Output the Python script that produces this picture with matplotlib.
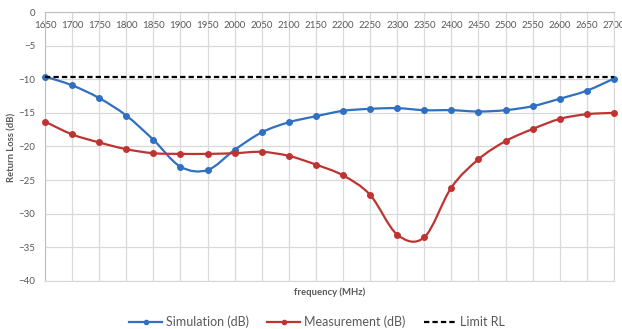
import numpy as np
import matplotlib
matplotlib.use("Agg")
import matplotlib.pyplot as plt
from matplotlib.path import Path
from matplotlib.patches import PathPatch
from matplotlib.lines import Line2D

plt.rcParams['font.family'] = ['Lato', 'DejaVu Sans']

# frequências (MHz)
freq = [1650, 1700, 1750, 1800, 1850, 1900, 1950, 2000, 2050, 2100, 2150,
        2200, 2250, 2300, 2350, 2400, 2450, 2500, 2550, 2600, 2650, 2700]

sim_db = [-9.6, -10.9, -12.8, -15.4, -19.0, -23.0, -23.5, -20.5, -17.9, -16.4, -15.5,
          -14.7, -14.4, -14.3, -14.6, -14.6, -14.8, -14.6, -14.0, -12.9, -11.7, -9.9]

meas_db = [-16.3, -18.2, -19.4, -20.4, -21.0, -21.1, -21.1, -21.0, -20.8, -21.4, -22.7,
           -24.3, -27.2, -33.1, -33.5, -26.1, -21.9, -19.2, -17.4, -15.9, -15.2, -15.0]

limit_rl = -9.6

azul = '#3070C2'
verm = '#BE3432'
cinza = '#595959'
grade = '#D9D9D9'


def curva_suave(x, y):
    # linha suavizada tipo Excel (bezier passando pelos pontos)
    x = np.asarray(x, float)
    y = np.asarray(y, float)
    verts = [(x[0], y[0])]
    codes = [Path.MOVETO]
    n = len(x)
    for i in range(n - 1):
        i0 = max(i - 1, 0)
        i3 = min(i + 2, n - 1)
        c1 = (x[i] + (x[i + 1] - x[i0]) / 6, y[i] + (y[i + 1] - y[i0]) / 6)
        c2 = (x[i + 1] - (x[i3] - x[i]) / 6, y[i + 1] - (y[i3] - y[i]) / 6)
        verts += [c1, c2, (x[i + 1], y[i + 1])]
        codes += [Path.CURVE4] * 3
    return Path(verts, codes)


fig = plt.figure(figsize=(6.22, 3.29), dpi=100)
ax = fig.add_axes([0.0723, 0.146, 0.9148, 0.8175])

for yy, cor in [(sim_db, azul), (meas_db, verm)]:
    ax.add_patch(PathPatch(curva_suave(freq, yy), fill=False, edgecolor=cor,
                           lw=1.6, zorder=3, capstyle='round'))
    ax.plot(freq, yy, 'o', color=cor, ms=4, zorder=4, clip_on=False)

ax.plot([freq[0], freq[-1]], [limit_rl, limit_rl], color='black', lw=1.6,
        dashes=(2.4, 1.4), zorder=5)

ax.set_xlim(1650, 2700)
ax.set_ylim(-40, 0)
ax.set_xticks(freq)
ax.set_yticks(range(-40, 1, 5))
ax.grid(True, color=grade, lw=0.9)
ax.set_axisbelow(True)

ax.xaxis.set_ticks_position('top')
ax.tick_params(axis='x', length=0, pad=-13, labelsize=7, colors=cinza)
ax.tick_params(axis='y', length=0, pad=7, labelsize=7, colors=cinza)
for s in ['bottom', 'right']:
    ax.spines[s].set_color(grade)
for s in ['top', 'left']:
    ax.spines[s].set_color('#BFBFBF')

fig.text(0.53, 1 - 292 / 329, 'frequency (MHz)', ha='center', va='center',
         fontsize=6.8, fontweight='bold', color=cinza)
fig.text(12 / 622, 1 - 147 / 329, 'Return Loss (dB)', ha='center', va='center',
         rotation=90, fontsize=6.8, fontweight='bold', color=cinza)

itens = [
    Line2D([], [], color=azul, lw=1.6, marker='o', ms=3),
    Line2D([], [], color=verm, lw=1.6, marker='o', ms=3),
    Line2D([], [], color='black', lw=1.6, dashes=(2.4, 1.4)),
]
fig.legend(itens, ['Simulation (dB)', 'Measurement (dB)', 'Limit RL'],
           loc='center', bbox_to_anchor=(0.51, 1 - 322 / 329), ncol=3,
           frameon=False, fontsize=9, handlelength=2.6, handletextpad=0.3,
           columnspacing=1.5, labelcolor=cinza)

fig.savefig('out.png', dpi=100)
